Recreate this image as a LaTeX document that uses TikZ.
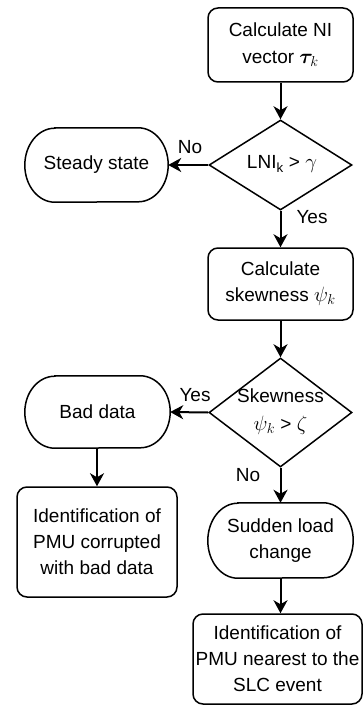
\documentclass[tikz,border=0pt]{standalone}
\usepackage{amsmath}
\usepackage{bm}
\usepackage{fontspec}
\setmainfont{Liberation Sans}
\usetikzlibrary{shapes.geometric,arrows.meta}
\newcommand{\mth}[1]{{\fontsize{22}{26}\selectfont$#1$}}
\newcommand{\ovalbox}[3]{\draw[line width=1.5pt] ([xshift=#2]#1.north west) -- ([xshift=-#2]#1.north east) arc[start angle=90,end angle=-90,x radius=#2,y radius=#3] -- ([xshift=#2]#1.south west) arc[start angle=270,end angle=90,x radius=#2,y radius=#3] -- cycle;}
\tikzset{
  every node/.style={font=\fontsize{19}{26}\selectfont, align=center, inner sep=0pt},
  procbox/.style={draw, line width=1.5pt, rounded corners=10pt},
  stadium/.style={rectangle},
  decision/.style={draw, diamond, line width=1.5pt},
  flow/.style={line width=2pt, -{Stealth[length=13pt,width=14pt,inset=4pt]}},
  lbl/.style={font=\fontsize{19}{22}\selectfont}
}
\begin{document}
\begin{tikzpicture}[x=1pt,y=-1pt]
\useasboundingbox (0,0) rectangle (363,706);
% nodes
\node[procbox, minimum width=145pt, minimum height=74pt] (b1) at (280.5,45) {Calculate NI\\[1pt]vector \mth{\bm{\tau}_k}};
\node[decision, minimum width=143pt, minimum height=90pt] (d1) at (280.5,165) {};
\node (d1t) at (282,164) {LNI\textsubscript{k} > \mth{\gamma}};
\node[stadium, minimum width=143pt, minimum height=74pt] (s1) at (96.5,165) {Steady state};
\node[procbox, minimum width=145pt, minimum height=72pt] (b2) at (280.5,284) {Calculate\\skewness \mth{\psi_k}};
\node[decision, minimum width=143pt, minimum height=109pt] (d2) at (280.5,412.5) {};
\node (d2t) at (280.5,412) {Skewness\\[2pt]\mth{\psi_k} > \mth{\zeta}};
\node[stadium, minimum width=145pt, minimum height=72pt] (s2) at (97.5,412) {Bad data};
\node[procbox, minimum width=160pt, minimum height=110pt] (b3) at (97,542) {Identification of\\PMU corrupted\\with bad data};
\node[stadium, minimum width=145pt, minimum height=75pt] (s3) at (280.5,540.5) {Sudden load\\change};
\node[procbox, minimum width=169pt, minimum height=90pt] (b4) at (277.5,659) {Identification of\\PMU nearest to the\\SLC event};
\ovalbox{s1}{30pt}{37pt}
\ovalbox{s2}{30pt}{36pt}
\ovalbox{s3}{30pt}{37.5pt}
% labels
\node[lbl] (l1) at (190,147) {No};
\node[lbl] (l2) at (312,217) {Yes};
\node[lbl] (l3) at (195,395) {Yes};
\node[lbl] (l4) at (248,475) {No};
% connectors
\draw[flow] (b1.south -| d1.north) -- (d1.north);
\draw[flow] (d1.west) -- (s1.east);
\draw[flow] (d1.south) -- (b2.north -| d1.south);
\draw[flow] (b2.south -| d2.north) -- (d2.north);
\draw[flow] (d2.west) -- (s2.east);
\draw[flow] (s2.south -| b3.north) -- (b3.north);
\draw[flow] (d2.south) -- (s3.north -| d2.south);
\draw[flow] (s3.south) -- (b4.north -| s3.south);
\end{tikzpicture}
\end{document}
